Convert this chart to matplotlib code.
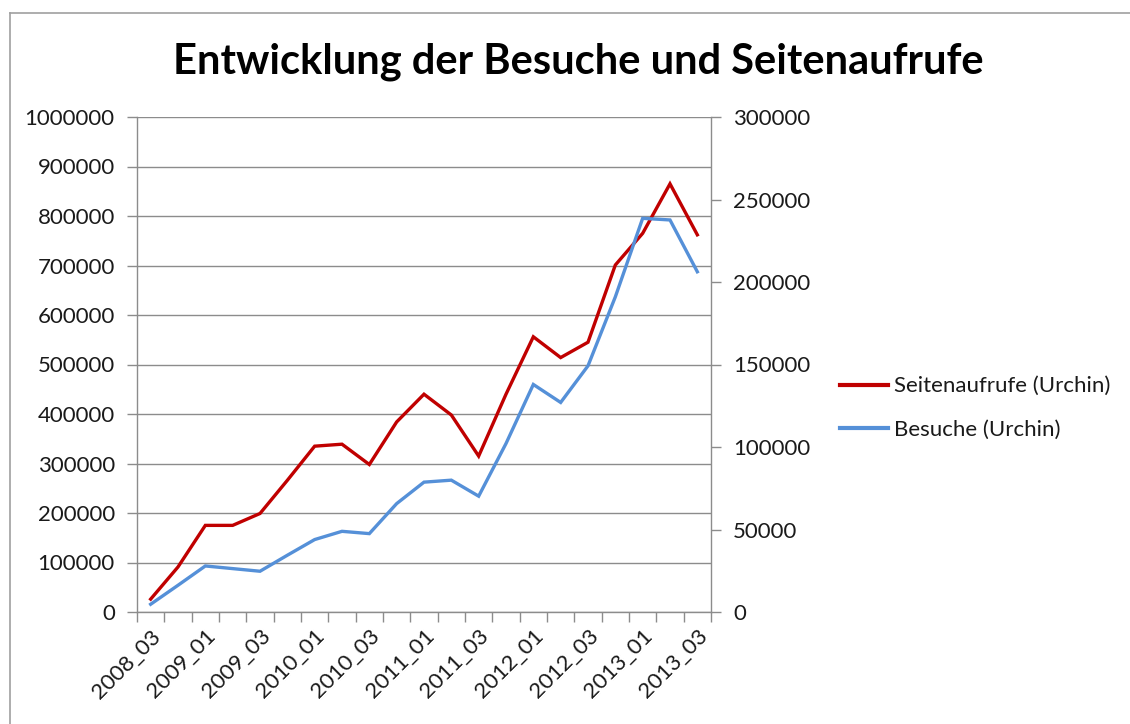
import numpy as np
import matplotlib
matplotlib.use("Agg")
import matplotlib.pyplot as plt
from matplotlib.lines import Line2D

plt.rcParams['font.family'] = ['Lato', 'DejaVu Sans']

# Quartale 2008_03 .. 2013_03
quartale = ['2008_03', '2008_04', '2009_01', '2009_02', '2009_03', '2009_04',
            '2010_01', '2010_02', '2010_03', '2010_04', '2011_01', '2011_02',
            '2011_03', '2011_04', '2012_01', '2012_02', '2012_03', '2012_04',
            '2013_01', '2013_02', '2013_03']

# Seitenaufrufe (linke Achse)
seitenaufrufe = [26000, 91000, 175000, 175000, 199000, 266000, 335000, 339000,
                 298000, 384000, 440000, 398000, 315000, 440000, 556000, 514000,
                 545000, 701000, 765000, 865000, 762000]

# Besuche (rechte Achse)
besuche = [4700, 16200, 27900, 26300, 24700, 34400, 43900, 48900, 47500, 65700,
           78700, 79900, 70200, 102100, 137900, 127000, 149200, 191000, 238600,
           237600, 206200]

rot = '#C00000'
blau = '#5590D8'
grau = '#8C8C8C'
textfarbe = '#1a1a1a'

fig = plt.figure(figsize=(11.3, 7.24), dpi=100)
ax = fig.add_axes([137 / 1130, 1 - 612 / 724, (711 - 137) / 1130, (612 - 117) / 724])
ax2 = ax.twinx()

x = np.arange(len(quartale))
ax.plot(x, seitenaufrufe, color=rot, lw=2.4, solid_joinstyle='miter', zorder=3)
ax2.plot(x, besuche, color=blau, lw=2.4, solid_joinstyle='miter', zorder=3)

ax.set_xlim(-0.5, len(quartale) - 0.5)
ax.set_ylim(0, 1000000)
ax2.set_ylim(0, 300000)

# x-Achse: Striche an den Kategoriegrenzen, Beschriftung jede zweite Kategorie
ax.set_xticks(np.arange(-0.5, len(quartale)))
ax.set_xticklabels([])
ax.set_xticks(x[::2], minor=True)
ax.set_xticklabels(quartale[::2], minor=True, rotation=45, ha='right',
                   va='top', rotation_mode='anchor', fontsize=16, color=textfarbe)
ax.tick_params(axis='x', which='major', direction='out', length=7, color=grau, width=1)
ax.tick_params(axis='x', which='minor', length=0, pad=10)

ax.set_yticks(np.arange(0, 1000001, 100000))
ax.set_yticklabels([str(v) for v in range(0, 1000001, 100000)], fontsize=16, color=textfarbe)
ax.tick_params(axis='y', direction='out', length=7, color=grau, width=1, pad=9)
ax.grid(axis='y', color=grau, lw=1)
ax.set_axisbelow(True)

ax2.set_yticks(np.arange(0, 300001, 50000))
ax2.set_yticklabels([str(v) for v in range(0, 300001, 50000)], fontsize=16, color=textfarbe)
ax2.tick_params(axis='y', direction='out', length=7, color=grau, width=1, pad=9)

for a in (ax, ax2):
    a.spines['top'].set_visible(False)
    for s in ('left', 'bottom', 'right'):
        a.spines[s].set_color(grau)
        a.spines[s].set_linewidth(1)
ax.spines['right'].set_visible(False)
ax2.spines['left'].set_visible(False)
ax2.spines['bottom'].set_visible(False)

fig.text(578 / 1130, 1 - 62 / 724, 'Entwicklung der Besuche und Seitenaufrufe',
         ha='center', va='center', fontsize=30, fontweight='bold', color='black')

handles = [Line2D([], [], color=rot, lw=3), Line2D([], [], color=blau, lw=3)]
fig.legend(handles, ['Seitenaufrufe (Urchin)', 'Besuche (Urchin)'],
           loc='center left', bbox_to_anchor=(820 / 1130, 1 - 408 / 724),
           frameon=False, fontsize=16, handlelength=2.15, handletextpad=0.3,
           labelspacing=1.05, labelcolor=textfarbe)

# Rahmen des Diagramms (links und oben)
fig.add_artist(Line2D([10 / 1130, 10 / 1130], [0, 1 - 13 / 724], color='#A0A0A0', lw=1.2))
fig.add_artist(Line2D([10 / 1130, 1], [1 - 13 / 724, 1 - 13 / 724], color='#A0A0A0', lw=1.2))

fig.savefig('out.png', dpi=100)
